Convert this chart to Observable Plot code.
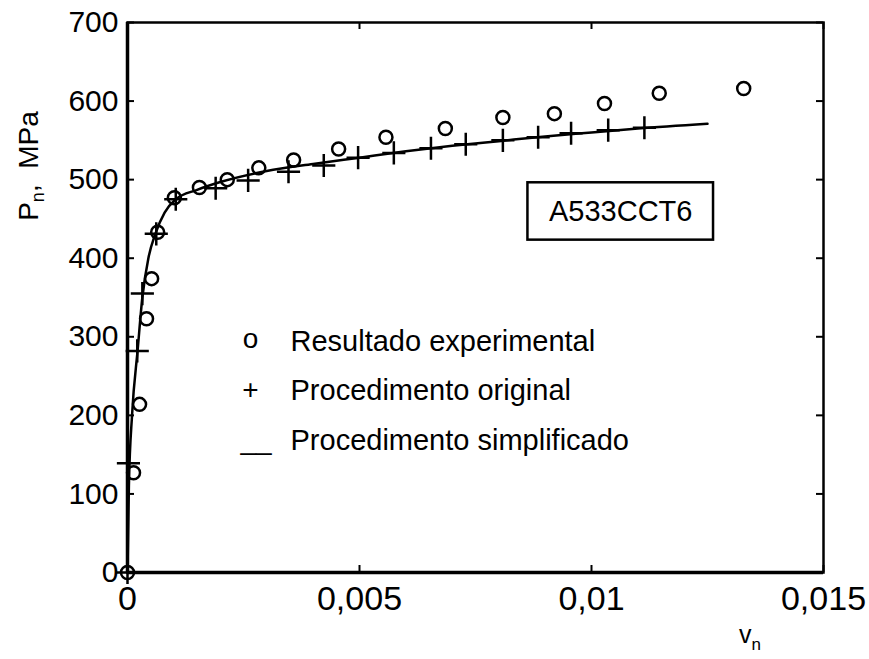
<!DOCTYPE html>
<html><head><meta charset="utf-8">
<script src="https://cdn.jsdelivr.net/npm/d3@7"></script>
<script src="https://cdn.jsdelivr.net/npm/@observablehq/plot@0.6"></script>
<style>body{margin:0;background:#fff}#chart{width:869px;height:659px}</style>
</head><body><div id="chart"></div>
<script>
// Resultado experimental (circles)
const expX = [0, 0.00013, 0.00026, 0.00041, 0.00052, 0.00065, 0.00101, 0.00155, 0.00215, 0.00283, 0.00358, 0.00455, 0.00557, 0.00685, 0.00809, 0.0092, 0.01028, 0.01146, 0.01328];
const expY = [0, 127, 214, 323, 374, 433, 477, 490, 500, 515, 525, 539, 554, 565, 579, 584, 597, 610, 616];
// Procedimento original (crosses)
const ogX = [0, 0.00002, 0.00021, 0.00032, 0.00062, 0.00104, 0.0019, 0.0026, 0.00347, 0.00423, 0.00497, 0.00574, 0.00654, 0.00729, 0.00809, 0.00885, 0.00956, 0.01036, 0.01114];
const ogY = [0, 139, 282, 355, 431, 475, 489, 499, 510, 518, 528, 534, 540, 545, 550, 554, 559, 563, 566];
// Procedimento simplificado (line)
const simX = [0, 0.00003, 0.0001, 0.00022, 0.00032, 0.00045, 0.0006, 0.0008, 0.00104, 0.0015, 0.002, 0.003, 0.004, 0.005, 0.006, 0.007, 0.008, 0.009, 0.01, 0.011, 0.0125];
const simY = [0, 110, 202, 284, 350, 400, 431, 458, 475, 487, 497, 511, 520, 528, 536, 543, 549, 555, 560, 565, 571];

const xTicks = [0, 0.005, 0.01, 0.015];
const yTicks = [0, 100, 200, 300, 400, 500, 600, 700];
const legendLabels = ["Resultado experimental", "Procedimento original", "Procedimento simplificado"];
const legendSymbols = ["o", "+", "__"];
const boxLabel = "A533CCT6";

const expData = expX.map((x, i) => ({x, y: expY[i]}));
const ogData = ogX.map((x, i) => ({x, y: ogY[i]}));
const simData = simX.map((x, i) => ({x, y: simY[i]}));

const fmt = d => d === 0 ? "0" : String(d).replace(".", ",");
const font = "'Liberation Sans', Arial, Helvetica, sans-serif";
const W = 869, H = 659, mL = 127, mR = 46, mT = 22, mB = 87;
const iW = W - mL - mR, iH = H - mT - mB;

const legendY = [319, 368, 418];
const legendMarks = legendLabels.flatMap((lab, i) => [
  Plot.text([lab], {text: d => d, frameAnchor: "top-left", dx: 163, dy: legendY[i], textAnchor: "start", lineAnchor: "middle", fontSize: 29}),
  Plot.text([legendSymbols[i]], {text: d => d, frameAnchor: "top-left", dx: i === 2 ? 113 : 123, dy: legendY[i] + (i === 0 ? -2 : 0), textAnchor: i === 2 ? "start" : "middle", lineAnchor: "middle", fontSize: 28})
]);

const plot = Plot.plot({
  width: W, height: H,
  marginLeft: mL, marginRight: mR, marginTop: mT, marginBottom: mB,
  style: {fontFamily: font, fontSize: "29px", background: "white", color: "black", overflow: "visible"},
  x: {domain: [0, 0.015], label: null},
  y: {domain: [0, 700], label: null},
  marks: [
    Plot.axisX({ticks: xTicks, tickSize: 0, tickPadding: 13, tickFormat: fmt, label: null, fontSize: 34}),
    Plot.axisY({ticks: yTicks, tickSize: 0, tickPadding: 9, label: null, fontSize: 30}),
    Plot.tickX(xTicks, {x: d => d, insetTop: iH - 7, strokeWidth: 2}),
    Plot.tickX(xTicks, {x: d => d, insetBottom: iH - 7, strokeWidth: 2}),
    Plot.tickY(yTicks, {y: d => d, insetRight: iW - 7, strokeWidth: 2}),
    Plot.tickY(yTicks, {y: d => d, insetLeft: iW - 7, strokeWidth: 2}),
    Plot.frame({stroke: "black", strokeWidth: 2.5}),
    Plot.ruleX([0], {stroke: "black", strokeWidth: 3.5}),
    Plot.ruleY([0], {stroke: "black", strokeWidth: 3.5}),
    Plot.rect([boxLabel], {x1: 0.00863, x2: 0.01263, y1: 423, y2: 496, fill: "none", stroke: "black", strokeWidth: 2.5}),
    Plot.text([boxLabel], {text: d => d, x: 0.01063, y: 459.5, fontSize: 29, textAnchor: "middle"}),
    Plot.line(simData, {x: "x", y: "y", stroke: "black", strokeWidth: 2.5, curve: "monotone-x"}),
    Plot.dot(ogData, {x: "x", y: "y", symbol: "plus", r: 7.5, stroke: "black", strokeWidth: 2.5}),
    Plot.dot(expData, {x: "x", y: "y", symbol: "circle", r: 6.5, stroke: "black", strokeWidth: 2.5, fill: "none"}),
    ...legendMarks
  ]
});

const svg = d3.select(plot);
const yl = svg.append("text")
  .attr("transform", "translate(38,166) rotate(-90)")
  .attr("text-anchor", "middle")
  .attr("font-size", 28)
  .attr("font-family", font)
  .attr("fill", "black");
yl.append("tspan").text("P");
yl.append("tspan").attr("font-size", 18).attr("dy", 6).text("n");
yl.append("tspan").attr("dy", -6).text(",  MPa");

const xl = svg.append("text")
  .attr("transform", "translate(739,643)")
  .attr("text-anchor", "start")
  .attr("font-size", 25)
  .attr("font-family", font)
  .attr("fill", "black");
xl.append("tspan").text("v");
xl.append("tspan").attr("font-size", 17).attr("dy", 7).text("n");

document.getElementById("chart").append(plot);
</script>
</body></html>
